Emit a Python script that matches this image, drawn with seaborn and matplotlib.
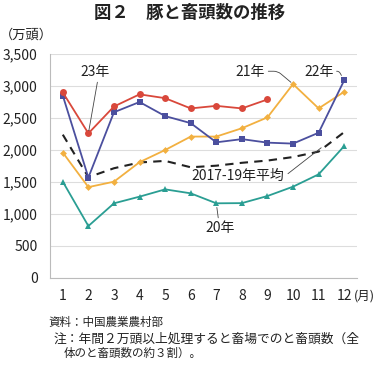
import numpy as np
import pandas as pd
import seaborn as sns
import matplotlib.pyplot as plt

# data (万頭)
months = list(range(1, 13))
y23 = [2900, 2260, 2680, 2870, 2810, 2650, 2690, 2650, 2790]
y22 = [2850, 1570, 2590, 2750, 2530, 2420, 2120, 2170, 2115, 2100, 2270, 3090]
y21 = [1960, 1420, 1505, 1810, 2000, 2210, 2210, 2340, 2510, 3030, 2650, 2910]
y20 = [1505, 812, 1167, 1271, 1385, 1323, 1167, 1170, 1281, 1427, 1620, 2062]
avg = [2240, 1575, 1715, 1805, 1830, 1730, 1755, 1800, 1835, 1890, 1975, 2280]

sns.set_theme(style='white')
plt.rcParams['font.family'] = ['Noto Sans CJK JP', 'DejaVu Sans']

fig = plt.figure(figsize=(3.8, 3.71), dpi=100)
ax = fig.add_axes([0.1316, 0.2507, 0.8079, 0.6037])

red = '#d9483b'
navy = '#4b4f9e'
orange = '#f2b040'
teal = '#2a9e93'
txt = '#222222'

sns.lineplot(x=months, y=avg, ax=ax, color='#222222', lw=1.5, linestyle=(0, (4, 3)))
sns.lineplot(x=months, y=y20, ax=ax, color=teal, lw=1.3, marker='^', markersize=4, markeredgewidth=0)
sns.lineplot(x=months, y=y21, ax=ax, color=orange, lw=1.3, marker='D', markersize=3.5, markeredgewidth=0)
sns.lineplot(x=months, y=y22, ax=ax, color=navy, lw=1.3, marker='s', markersize=4.5, markeredgewidth=0)
sns.lineplot(x=months[:len(y23)], y=y23, ax=ax, color=red, lw=1.3, marker='o', markersize=5, markeredgewidth=0)

ax.set_xlim(0.5, 12.5)
ax.set_ylim(0, 3500)
ax.set_xticks(months)
ax.set_yticks(range(0, 3501, 500))
ax.set_yticklabels([f'{v:,}' for v in range(0, 3501, 500)])
ax.tick_params(axis='both', labelsize=10, length=0, colors=txt)
ax.tick_params(axis='x', pad=8)
ax.tick_params(axis='y', pad=9)
ax.grid(axis='y', color='#dddddd', lw=0.8)
for s in ['top', 'right']:
    ax.spines[s].set_visible(False)
for s in ['left', 'bottom']:
    ax.spines[s].set_color('#bbbbbb')
    ax.spines[s].set_linewidth(0.8)

# labels with leader lines
lab = dict(fontsize=10, color=txt, ha='center', va='center')
lead = dict(arrowstyle='-', lw=0.6, color='#444444', shrinkA=0)
ax.annotate('23年', xy=(2, y23[1]), xytext=(2.26, 3220),
            arrowprops=dict(lead, shrinkB=2, relpos=(0.6, 0)), **lab)
ax.annotate('21年', xy=(10, y21[9]), xytext=(8.33, 3220),
            arrowprops=dict(lead, shrinkB=2, relpos=(1, 0.55),
                            connectionstyle='angle,angleA=0,angleB=-40,rad=4'), **lab)
ax.annotate('22年', xy=(12, y22[11]), xytext=(11.0, 3220),
            arrowprops=dict(lead, shrinkB=4, relpos=(1, 0.55),
                            connectionstyle='angle,angleA=0,angleB=-60,rad=2'), **lab)
ax.annotate('2017-19年平均', xy=(11.1, avg[10] + 60), xytext=(7.86, 1590),
            arrowprops=dict(lead, shrinkB=0, relpos=(1, 0.5)), **lab)
ax.annotate('20年', xy=(7, y20[6]), xytext=(7.15, 780),
            arrowprops=dict(lead, shrinkB=3, relpos=(0.45, 1)), **lab)

fig.text(0.5, 0.965, '図２　豚と畜頭数の推移', ha='center', va='center', fontsize=12.5, fontweight='bold', color=txt)
fig.text(0.0, 0.905, '（万頭）', ha='left', va='center', fontsize=9.5, color=txt)
fig.text(0.932, 0.203, '(月)', ha='left', va='center', fontsize=9, color=txt)

notes = dict(color=txt, va='center', ha='left')
fig.text(0.128, 0.130, '資料：中国農業農村部', fontsize=8.3, **notes)
fig.text(0.140, 0.085, '注：年間２万頭以上処理すると畜場でのと畜頭数（全', fontsize=9.2, **notes)
fig.text(0.168, 0.047, '体のと畜頭数の約３割）。', fontsize=8.3, **notes)

fig.savefig('out.png', dpi=100)
